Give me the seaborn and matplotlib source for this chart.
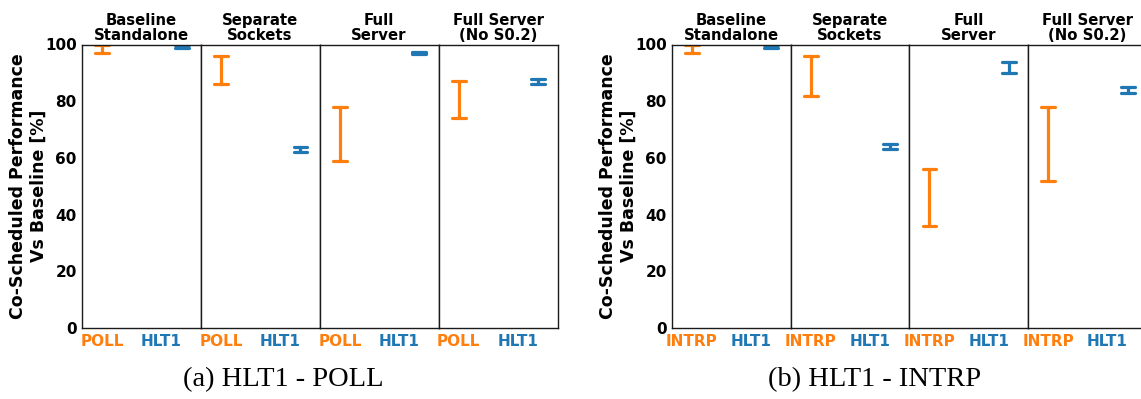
import matplotlib
matplotlib.use("Agg")
import matplotlib.pyplot as plt
import matplotlib.transforms as mtransforms
import numpy as np
import pandas as pd
import seaborn as sns

# Scenario panels (same for both sub-figures)
scenarios = ["Baseline\nStandalone", "Separate\nSockets", "Full\nServer", "Full Server\n(No S0.2)"]

# (a) HLT1 co-scheduled with POLL: min / max of normalised performance [%]
poll_lo = [97, 86, 59, 74]
poll_hi = [100, 96, 78, 87]
hlt1_vs_poll_lo = [98.8, 62, 96.8, 86]
hlt1_vs_poll_hi = [100, 64, 97.3, 88]

# (b) HLT1 co-scheduled with INTRP
intrp_lo = [97, 82, 36, 52]
intrp_hi = [100, 96, 56, 78]
hlt1_vs_intrp_lo = [98.8, 63, 90, 83]
hlt1_vs_intrp_hi = [100, 65, 94, 85]

yticks = [0, 20, 40, 60, 80, 100]
ylabel = "Co-Scheduled Performance\nVs Baseline [%]"
captions = ["(a) HLT1 - POLL", "(b) HLT1 - INTRP"]

ORANGE = "#ff7f0e"
BLUE = "#1f77b4"

sns.set_theme(style="white")
plt.rcParams["font.family"] = ["DejaVu Sans"]
plt.rcParams.update({
    "text.color": "black",
    "axes.labelcolor": "black",
    "xtick.color": "black",
    "ytick.color": "black",
    "axes.edgecolor": "black",
})

W, H = 1141, 399
fig = plt.figure(figsize=(W / 100, H / 100), dpi=100)

TICK_FS = 11
TITLE_FS = 10.7
YLABEL_FS = 12.5


def draw_group(x_left, panel_w, names, lo_a, hi_a, lo_b, hi_b, caption, cap_x):
    top_px, bot_px = 44.5, 328
    palette = {names[0]: ORANGE, names[1]: BLUE}
    axes = []
    for i, scen in enumerate(scenarios):
        x0 = x_left + i * panel_w
        ax = fig.add_axes([x0 / W, 1 - bot_px / H, panel_w / W, (bot_px - top_px) / H])
        df = pd.DataFrame({
            "workload": [names[0], names[0], names[1], names[1]],
            "perf": [lo_a[i], hi_a[i], lo_b[i], hi_b[i]],
        })
        sns.pointplot(
            data=df, x="workload", y="perf", hue="workload",
            order=names, hue_order=names, palette=palette,
            estimator="mean", errorbar=("pi", 100), capsize=0.175,
            err_kws={"linewidth": 2.3}, marker="", linestyle="none",
            legend=False, ax=ax,
        )
        ax.set_xlim(-0.254, 1.24)
        ax.set_ylim(0, 100)
        ax.set_yticks(yticks)
        ax.set_xticks([0, 1])
        ax.set_xticklabels(names, fontsize=TICK_FS, fontweight="bold")
        tl = ax.get_xticklabels()
        tl[0].set_color(ORANGE)
        tl[1].set_color(BLUE)
        tl[1].set_horizontalalignment("right")
        tl[1].set_transform(tl[1].get_transform() +
                            mtransforms.ScaledTranslation(2 / 100, 0, fig.dpi_scale_trans))
        ax.set_xlabel("")
        ax.set_title(scen, fontsize=TITLE_FS, fontweight="bold", pad=3.5,
                     linespacing=1.0, color="black")
        ax.tick_params(axis="both", direction="out", length=2.5, width=0.8,
                       color="0.2", pad=1)
        ax.tick_params(axis="x", pad=1.5)
        if i == 0:
            ax.set_yticklabels([str(t) for t in yticks], fontsize=TICK_FS,
                               fontweight="bold", color="black")
            ax.set_ylabel(ylabel, fontsize=YLABEL_FS, fontweight="bold",
                          labelpad=-2, color="black")
        else:
            ax.set_yticklabels([])
            ax.set_ylabel("")
        for sp in ax.spines.values():
            sp.set_visible(True)
            sp.set_color("0.1")
            sp.set_linewidth(1.0)
        axes.append(ax)
    fig.text(cap_x / W, 1 - 380 / H, caption, ha="center", va="center",
             fontsize=20.5, family=["Liberation Serif"], color="black")
    return axes


draw_group(81.7, 118.95, ["POLL", "HLT1"], poll_lo, poll_hi,
           hlt1_vs_poll_lo, hlt1_vs_poll_hi, captions[0], 283)
draw_group(671.7, 118.8, ["INTRP", "HLT1"], intrp_lo, intrp_hi,
           hlt1_vs_intrp_lo, hlt1_vs_intrp_hi, captions[1], 875)

fig.savefig("out.png", dpi=100)
